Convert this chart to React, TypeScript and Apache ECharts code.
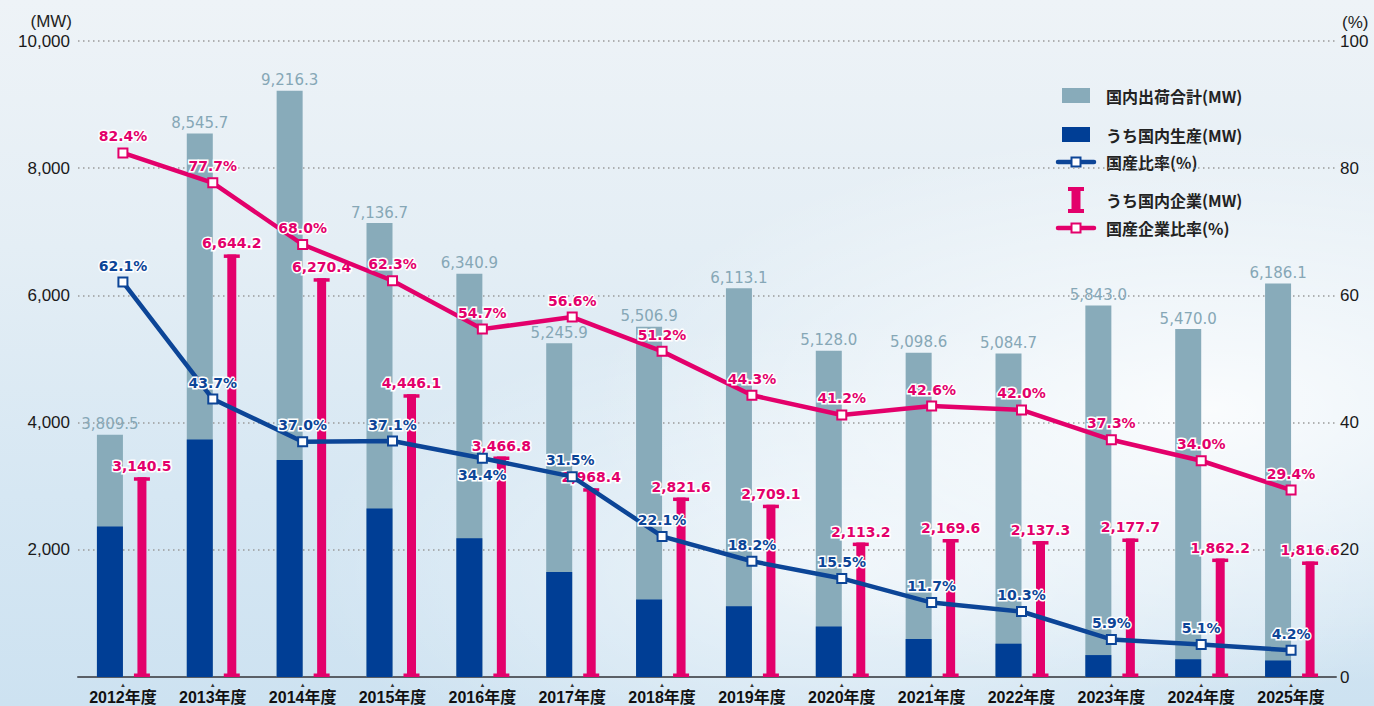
import React, { useEffect, useRef } from 'react';
import * as echarts from 'echarts';

const categories = ['2012年度', '2013年度', '2014年度', '2015年度', '2016年度', '2017年度', '2018年度', '2019年度', '2020年度', '2021年度', '2022年度', '2023年度', '2024年度', '2025年度'];
const totalShipments = [3809.5, 8545.7, 9216.3, 7136.7, 6340.9, 5245.9, 5506.9, 6113.1, 5128.0, 5098.6, 5084.7, 5843.0, 5470.0, 6186.1];
const domesticProduction = [2365.7, 3734.5, 3410.0, 2647.7, 2181.3, 1652.5, 1217.0, 1112.6, 794.8, 596.5, 523.7, 344.7, 279.0, 259.8];
const domesticCompanies = [3140.5, 6644.2, 6270.4, 4446.1, 3466.8, 2968.4, 2821.6, 2709.1, 2113.2, 2169.6, 2137.3, 2177.7, 1862.2, 1816.6];
const domesticProductionRatio = [62.1, 43.7, 37.0, 37.1, 34.4, 31.5, 22.1, 18.2, 15.5, 11.7, 10.3, 5.9, 5.1, 4.2];
const domesticCompanyRatio = [82.4, 77.7, 68.0, 62.3, 54.7, 56.6, 51.2, 44.3, 41.2, 42.6, 42.0, 37.3, 34.0, 29.4];
const legendLabels = ['国内出荷合計(MW)', 'うち国内生産(MW)', '国産比率(%)', 'うち国内企業(MW)', '国産企業比率(%)'];

const GRAY = '#88abba';
const NAVY = '#003e95';
const BLUE = '#0c4597';
const MAGENTA = '#e3006b';
const NUMFONT = '"DejaVu Sans", sans-serif';
const JPFONT = '"Noto Sans CJK JP", sans-serif';

const fmtMW = (v: number) => v.toLocaleString('en-US', { minimumFractionDigits: 1, maximumFractionDigits: 1 });
const fmtPct = (v: number) => v.toFixed(1) + '%';

export default function App() {
  const ref = useRef<HTMLDivElement>(null);
  useEffect(() => {
    if (!ref.current) return;
    const chart = echarts.init(ref.current, null, { renderer: 'svg' });

    const legendX = 1106;
    const legendText = (text: string, y: number) => ({
      type: 'text', x: legendX, y,
      style: { text, font: `bold 16px ${JPFONT}`, fill: '#222', textVerticalAlign: 'middle' },
    });

    const option: any = {
      animation: false,
      backgroundColor: 'transparent',
      grid: { left: 78, right: 38, top: 41, bottom: 29 },
      xAxis: [
        {
          type: 'category', data: categories, gridIndex: 0,
          axisLine: { lineStyle: { color: '#5a5f66', width: 2 } },
          axisTick: { inside: true, length: 4, lineStyle: { color: '#5a5f66', width: 1.5 } },
          axisLabel: {
            interval: 0, margin: 4,
            formatter: (v: string) => '{t|▲}\n{a|' + v + '}',
            rich: {
              t: { fontSize: 6, lineHeight: 7, color: '#333' },
              a: { fontSize: 16, fontWeight: 'bold', lineHeight: 19, color: '#111', fontFamily: '"Liberation Sans", "Noto Sans CJK JP", sans-serif' },
            },
          },
          splitLine: { show: false },
        },
        { type: 'category', data: categories, gridIndex: 0, show: false },
      ],
      yAxis: [
        {
          type: 'value', min: 0, max: 10000, interval: 2000,
          axisLine: { show: false }, axisTick: { show: false },
          axisLabel: {
            margin: 8, fontSize: 17, color: '#1a1a1a', fontFamily: '"Liberation Sans", sans-serif',
            formatter: (v: number) => (v === 0 ? '' : v.toLocaleString('en-US')),
          },
          splitLine: { show: true, lineStyle: { color: '#9a9a9a', width: 1.5, type: [1.5, 3.5] } },
        },
        {
          type: 'value', min: 0, max: 100, interval: 20, position: 'right',
          axisLine: { show: false }, axisTick: { show: false },
          axisLabel: { margin: 4, fontSize: 17, color: '#1a1a1a', fontFamily: '"Liberation Sans", sans-serif' },
          splitLine: { show: false },
        },
      ],
      graphic: [
        { type: 'text', x: 72, y: 21, style: { text: '(MW)', font: '17px "Liberation Sans", sans-serif', fill: '#222', textAlign: 'right', textVerticalAlign: 'middle' } },
        { type: 'text', x: 1342, y: 22, style: { text: '(%)', font: '17px "Liberation Sans", sans-serif', fill: '#222', textAlign: 'left', textVerticalAlign: 'middle' } },
        // legend
        { type: 'rect', shape: { x: 1062, y: 88, width: 28, height: 15 }, style: { fill: GRAY } },
        legendText(legendLabels[0], 96),
        { type: 'rect', shape: { x: 1062, y: 127, width: 28, height: 15 }, style: { fill: NAVY } },
        legendText(legendLabels[1], 135),
        { type: 'line', shape: { x1: 1058, y1: 162, x2: 1094, y2: 162 }, style: { stroke: BLUE, lineWidth: 4.5, lineCap: 'round' } },
        { type: 'rect', shape: { x: 1071.5, y: 157.5, width: 9, height: 9 }, style: { fill: '#fff', stroke: BLUE, lineWidth: 2 } },
        legendText(legendLabels[2], 162),
        { type: 'rect', shape: { x: 1068, y: 187, width: 16, height: 4 }, style: { fill: MAGENTA } },
        { type: 'rect', shape: { x: 1071.5, y: 187, width: 9, height: 26 }, style: { fill: MAGENTA } },
        { type: 'rect', shape: { x: 1068, y: 209, width: 16, height: 4 }, style: { fill: MAGENTA } },
        legendText(legendLabels[3], 200),
        { type: 'line', shape: { x1: 1058, y1: 228, x2: 1094, y2: 228 }, style: { stroke: MAGENTA, lineWidth: 4.5, lineCap: 'round' } },
        { type: 'rect', shape: { x: 1071.5, y: 223.5, width: 9, height: 9 }, style: { fill: '#fff', stroke: MAGENTA, lineWidth: 2 } },
        legendText(legendLabels[4], 228),
      ],
      series: [
        {
          name: legendLabels[0], type: 'bar', xAxisIndex: 0, yAxisIndex: 0,
          data: totalShipments, barWidth: 26, z: 2,
          itemStyle: { color: GRAY },
          label: { show: true, position: 'top', distance: 3, formatter: (p: any) => fmtMW(p.value), color: '#86a7b6', fontSize: 15, fontFamily: NUMFONT },
        },
        {
          name: 'spacer1', type: 'bar', xAxisIndex: 0, yAxisIndex: 0,
          data: categories.map(() => '-'), barWidth: 26, barGap: 0, itemStyle: { color: 'transparent' },
        },
        {
          name: legendLabels[1], type: 'bar', xAxisIndex: 1, yAxisIndex: 0,
          data: domesticProduction, barWidth: 26, z: 2,
          itemStyle: { color: NAVY },
        },
        {
          name: 'spacer2', type: 'bar', xAxisIndex: 1, yAxisIndex: 0,
          data: categories.map(() => '-'), barWidth: 26, barGap: 0, itemStyle: { color: 'transparent' },
        },
        {
          name: legendLabels[3], type: 'custom', xAxisIndex: 0, yAxisIndex: 0, z: 3,
          data: domesticCompanies.map((v, i) => [i, v]),
          encode: { x: 0, y: 1 },
          renderItem: (params: any, api: any) => {
            const idx = api.value(0);
            const v = api.value(1);
            const top = api.coord([idx, v]);
            const base = api.coord([idx, 0]);
            const cx = top[0] + 19;
            const h = base[1] - top[1];
            return {
              type: 'group',
              children: [
                { type: 'rect', shape: { x: cx - 4.5, y: top[1], width: 9, height: h }, style: { fill: MAGENTA } },
                { type: 'rect', shape: { x: cx - 8, y: top[1], width: 16, height: 3.5 }, style: { fill: MAGENTA } },
                { type: 'rect', shape: { x: cx - 8, y: base[1] - 3.5, width: 16, height: 3.5 }, style: { fill: MAGENTA } },
                {
                  type: 'text', x: cx, y: top[1] - 4, z2: 10,
                  style: {
                    text: fmtMW(v), textAlign: 'center', textVerticalAlign: 'bottom',
                    fill: MAGENTA, font: `bold 14px ${NUMFONT}`, stroke: '#fff', lineWidth: 3,
                  },
                },
              ],
            };
          },
        },
        {
          name: legendLabels[4], type: 'line', xAxisIndex: 0, yAxisIndex: 1, z: 4,
          data: domesticCompanyRatio,
          symbol: 'rect', symbolSize: 9,
          lineStyle: { color: MAGENTA, width: 4.5 },
          itemStyle: { color: '#fff', borderColor: MAGENTA, borderWidth: 2 },
          label: {
            show: true, position: 'top', distance: 4, formatter: (p: any) => fmtPct(p.value),
            color: MAGENTA, fontSize: 14, fontWeight: 'bold', fontFamily: NUMFONT,
            textBorderColor: '#fff', textBorderWidth: 3,
          },
        },
        {
          name: legendLabels[2], type: 'line', xAxisIndex: 0, yAxisIndex: 1, z: 5,
          data: domesticProductionRatio.map((v, i) => {
            if (i === 4) return { value: v, label: { position: 'bottom' } };
            if (i === 5) return { value: v, label: { offset: [-2, 0] } };
            return v;
          }),
          symbol: 'rect', symbolSize: 9,
          lineStyle: { color: BLUE, width: 4.5 },
          itemStyle: { color: '#fff', borderColor: BLUE, borderWidth: 2 },
          label: {
            show: true, position: 'top', distance: 4, formatter: (p: any) => fmtPct(p.value),
            color: BLUE, fontSize: 14, fontWeight: 'bold', fontFamily: NUMFONT,
            textBorderColor: '#fff', textBorderWidth: 3,
          },
        },
      ],
    };
    chart.setOption(option);
    return () => chart.dispose();
  }, []);

  return (
    <div
      style={{
        position: 'absolute', left: 0, top: 0, width: 1374, height: 706, overflow: 'hidden',
        background:
          'radial-gradient(ellipse 45% 40% at 88% 58%, rgba(255,255,255,0.85), rgba(255,255,255,0) 100%),' +
          'radial-gradient(ellipse 40% 35% at 62% 80%, rgba(255,255,255,0.6), rgba(255,255,255,0) 100%),' +
          'linear-gradient(180deg, #eef3f7 0%, #e4eef5 35%, #d6e7f3 70%, #cde2f1 100%)',
      }}
    >
      <div ref={ref} style={{ width: 1374, height: 706 }} />
    </div>
  );
}
